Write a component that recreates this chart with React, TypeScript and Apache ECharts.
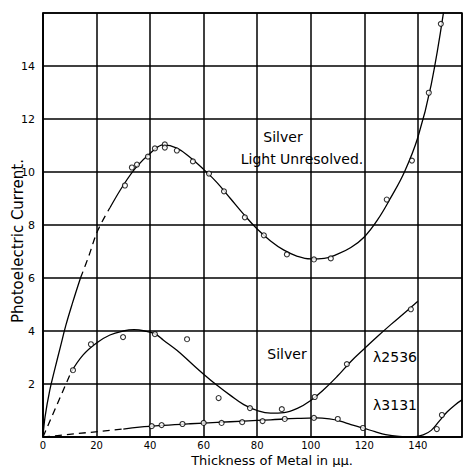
import React, { useEffect, useRef } from "react";
import * as echarts from "echarts";

// X ticks (thickness in μμ) and Y ticks (current)
const xTicks = [0, 20, 40, 60, 80, 100, 120, 140];
const yTicks = [2, 4, 6, 8, 10, 12, 14];

// Silver, light unresolved: observed points
const unresolvedPoints: [number, number][] = [
  [30.6, 9.49], [33.2, 10.17], [35.1, 10.28], [39.2, 10.58], [41.8, 10.89],
  [45.5, 11.04], [45.5, 10.92], [50.0, 10.81], [56.0, 10.4], [62.0, 9.94],
  [67.6, 9.27], [75.4, 8.29], [82.5, 7.61], [91.1, 6.89], [101.2, 6.7],
  [107.5, 6.74], [128.4, 8.96], [137.8, 10.43], [144.1, 12.99], [148.6, 15.59],
];
// Silver, light unresolved: drawn curve pieces
const unresolvedStart: [number, number][] = [
  [0, 0], [0.75, 0.75], [2.5, 1.75], [4.5, 2.6], [6.5, 3.4], [8.5, 4.2], [11, 5.05], [14, 6.0],
];
const unresolvedGap: [number, number][] = [
  [14, 6.0], [17, 6.8], [20.5, 7.8], [25, 8.65],
];
const unresolvedCurve: [number, number][] = [
  [25, 8.65], [30, 9.5], [35, 10.2], [40, 10.7], [45, 11.02], [50, 10.9], [55, 10.55],
  [60, 10.1], [65, 9.6], [70, 9.0], [75, 8.4], [80, 7.85], [85, 7.4], [90, 7.05],
  [95, 6.82], [100, 6.72], [105, 6.74], [110, 6.9], [115, 7.15], [120, 7.55],
  [125, 8.2], [130, 9.05], [135, 10.0], [140, 11.3], [145, 13.3], [150, 16.3],
];

// Silver λ2536
const l2536Points: [number, number][] = [
  [11.2, 2.52], [17.9, 3.5], [29.9, 3.77], [41.8, 3.88], [53.8, 3.69], [65.6, 1.47],
  [77.3, 1.09], [89.2, 1.05], [101.5, 1.51], [113.5, 2.75], [137.4, 4.82],
];
const l2536Dashed: [number, number][] = [[0, 0], [10.5, 2.45]];
const l2536Curve: [number, number][] = [
  [10.5, 2.45], [15, 3.1], [20, 3.55], [25, 3.85], [30, 4.0], [34, 4.05], [38, 4.0],
  [42, 3.88], [45, 3.65], [50, 3.27], [55, 2.82], [60, 2.37], [65, 1.95], [70, 1.57],
  [75, 1.22], [80, 1.0], [85, 0.9], [90, 0.92], [95, 1.08], [100, 1.38], [105, 1.8],
  [110, 2.3], [115, 2.85], [120, 3.33], [125, 3.8], [130, 4.25], [135, 4.68], [140, 5.12],
];

// Silver λ3131
const l3131Points: [number, number][] = [
  [40.6, 0.41], [44.3, 0.45], [52.1, 0.49], [60, 0.53], [66.7, 0.53], [74.4, 0.56],
  [82, 0.6], [90.3, 0.68], [101.2, 0.72], [110.1, 0.68], [119.5, 0.34], [147.1, 0.3],
  [149, 0.83],
];
const l3131Dashed: [number, number][] = [[0, 0], [30, 0.3]];
const l3131Curve: [number, number][] = [
  [30, 0.3], [36, 0.37], [45, 0.44], [55, 0.5], [65, 0.55], [75, 0.6], [85, 0.65],
  [95, 0.7], [102, 0.72], [107, 0.68], [111, 0.6], [115, 0.47], [119.5, 0.34],
  [124, 0.2], [128, 0.09], [133, 0.02], [138, 0.0], [142, 0.08], [145, 0.25],
  [148, 0.6], [151, 0.95], [154, 1.22], [156.5, 1.4],
];

const FONT = "DejaVu Sans";

export default function App() {
  const ref = useRef<HTMLDivElement>(null);
  useEffect(() => {
    if (!ref.current) return;
    const chart = echarts.init(ref.current, undefined, { renderer: "svg" });
    const solid = { color: "#000", width: 1.3, type: "solid" as const };
    const dashed = { color: "#000", width: 1.3, type: [7, 5] as any };
    const line = (data: [number, number][], ls: any, smooth = 0.4) => ({
      type: "line",
      data,
      smooth,
      symbol: "none",
      lineStyle: ls,
      silent: true,
      z: 3,
    });
    const pts = (data: [number, number][]) => ({
      type: "scatter",
      data,
      symbol: "circle",
      symbolSize: 5,
      itemStyle: { color: "#fff", borderColor: "#000", borderWidth: 1.1 },
      z: 4,
    });
    chart.setOption({
      animation: false,
      backgroundColor: "#fff",
      grid: {
        left: 43,
        top: 13,
        right: 4,
        bottom: 30,
        show: true,
        borderColor: "#000",
        borderWidth: 1.5,
      },
      xAxis: {
        type: "value",
        min: 0,
        max: 156.5,
        interval: 20,
        axisLine: { show: true, lineStyle: { color: "#000", width: 1.5 } },
        axisTick: { show: false },
        splitLine: { show: true, lineStyle: { color: "#000", width: 1.5 } },
        axisLabel: {
          color: "#000",
          fontFamily: FONT,
          fontSize: 10,
          margin: 3,
          formatter: (v: number) => (xTicks.includes(v) ? String(v) : ""),
        },
      },
      yAxis: {
        type: "value",
        min: 0,
        max: 16,
        interval: 2,
        axisLine: { show: true, lineStyle: { color: "#000", width: 1.5 } },
        axisTick: { show: false },
        splitLine: { show: true, lineStyle: { color: "#000", width: 1.5 } },
        axisLabel: {
          color: "#000",
          fontFamily: FONT,
          fontSize: 11,
          margin: 8,
          formatter: (v: number) => (yTicks.includes(v) ? String(v) : ""),
        },
      },
      graphic: [
        {
          type: "text",
          x: 18,
          y: 241,
          rotation: Math.PI / 2,
          style: {
            text: "Photoelectric Current.",
            fill: "#000",
            font: `15px ${FONT}`,
            align: "center",
            verticalAlign: "middle",
          },
        },
        {
          type: "text",
          x: 272,
          y: 460,
          style: {
            text: "Thickness of Metal in μμ.",
            fill: "#000",
            font: `13px ${FONT}`,
            align: "center",
            verticalAlign: "middle",
          },
        },
        {
          type: "text",
          x: 283,
          y: 137,
          style: { text: "Silver", fill: "#000", font: `14px ${FONT}`, align: "center", verticalAlign: "middle" },
        },
        {
          type: "text",
          x: 302,
          y: 159,
          style: { text: "Light Unresolved.", fill: "#000", font: `14px ${FONT}`, align: "center", verticalAlign: "middle" },
        },
        {
          type: "text",
          x: 287,
          y: 354,
          style: { text: "Silver", fill: "#000", font: `14px ${FONT}`, align: "center", verticalAlign: "middle" },
        },
        {
          type: "text",
          x: 395,
          y: 357,
          style: { text: "λ2536", fill: "#000", font: `14px ${FONT}`, align: "center", verticalAlign: "middle" },
        },
        {
          type: "text",
          x: 395,
          y: 405,
          style: { text: "λ3131", fill: "#000", font: `14px ${FONT}`, align: "center", verticalAlign: "middle" },
        },
      ],
      series: [
        line(unresolvedStart, solid),
        line(unresolvedGap, dashed),
        line(unresolvedCurve, solid),
        pts(unresolvedPoints),
        line(l2536Dashed, dashed, 0),
        line(l2536Curve, solid),
        pts(l2536Points),
        line(l3131Dashed, dashed, 0),
        line(l3131Curve, solid),
        pts(l3131Points),
      ],
    });
    return () => chart.dispose();
  }, []);
  return (
    <div
      ref={ref}
      style={{ position: "fixed", left: 0, top: 0, width: 466, height: 467 }}
    />
  );
}
